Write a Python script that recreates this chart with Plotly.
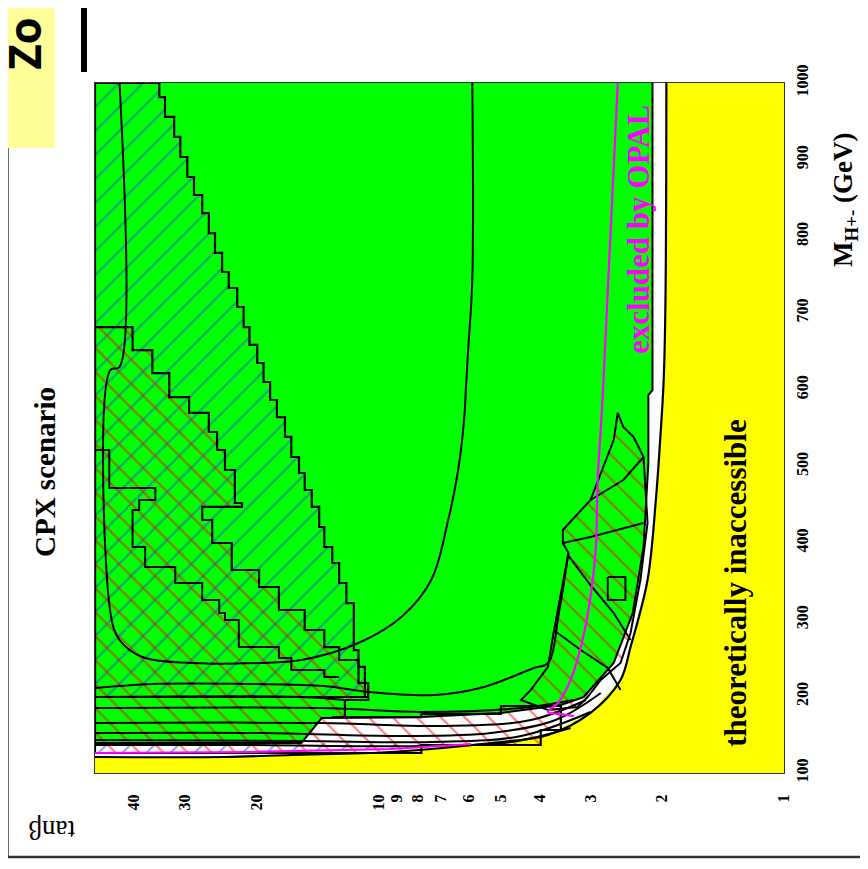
import math
import plotly.graph_objects as go

# ---------------- data (tan(beta), M_H+- in GeV) ----------------
tb_ticks = [1, 2, 3, 4, 5, 6, 7, 8, 9, 10, 20, 30, 40]
tb_ticktext = [str(v) for v in tb_ticks]
m_ticks = [100, 200, 300, 400, 500, 600, 700, 800, 900, 1000]

# theoretically inaccessible boundary
yellow_tb = [50, 23.9, 16.4, 9.29, 5.28, 3.82, 3.00, 2.53, 2.39, 2.17, 2.07, 2.02, 1.98, 1.96, 1.95]
yellow_m = [120.9, 120.9, 123.5, 127.4, 139.1, 149.6, 178.3, 221.3, 264.3, 351.7, 456.1, 534.3, 612.6, 716.9, 1000]

# inner edge of the excluded (green) region
inner_tb = [50, 15.5, 13.8, 7.84, 4.99, 3.55, 3.12, 2.63, 2.36, 2.22, 2.16, 2.16, 2.11, 2.11]
inner_m = [139.1, 139.1, 171.7, 173.0, 178.3, 188.7, 199.1, 243.5, 308.7, 394.8, 504.3, 593.0, 599.5, 1000]

# blue-hatched region (staircase)
blue_tb = [50, 34.7, 33.6, 31.9, 30.8, 29.6, 28.5, 27.2, 26.2, 25.3, 24.3, 23.4, 22.3, 21.5, 20.8,
           19.9, 19.2, 18.5, 17.8, 17.0, 16.4, 15.7, 15.2, 14.6, 14.0, 13.6, 13.0, 12.5, 12.0, 11.5,
           11.5, 11.2, 10.8, 10.6, 50]
blue_m = [1000, 1000, 981.7, 955.7, 929.6, 903.5, 877.4, 853.9, 830.4, 804.3, 778.3, 753.5, 732.6, 707.8, 681.7,
          658.3, 634.8, 610.0, 586.5, 564.3, 538.3, 512.2, 491.3, 469.1, 447.0, 420.9, 394.8, 373.9, 347.8, 321.7,
          269.6, 260.4, 238.3, 199.1, 199.1]
blue2_tb = [50, 15.5, 9.0, 6.0, 9.29, 20.5, 50]
blue2_m = [139.1, 139.1, 138.0, 137.8, 131.3, 127.4, 126.1]

# red-hatched regions
red_tb = [50, 40.4, 36.1, 32.8, 29.3, 26.2, 25.0, 23.9, 22.6, 21.7, 27.2, 25.7, 23.0, 19.7, 17.6, 15.2,
          13.6, 12.5, 11.2, 10.6, 10.6, 12.1, 13.0, 7.84, 4.99, 3.55, 3.98, 7.84, 50]
red_m = [684.3, 681.7, 651.7, 621.7, 590.4, 569.6, 544.8, 521.3, 495.2, 452.2, 447.0, 430.0, 400.0, 364.8,
         342.6, 312.6, 286.5, 264.3, 247.4, 217.4, 199.1, 195.2, 173.0, 173.0, 177.0, 187.4, 156.1, 136.5, 126.1]
red2_tb = [2.57, 2.49, 2.35, 2.22, 2.17, 2.26, 2.39, 2.53, 2.83, 3.05, 3.23, 3.82, 4.45, 4.21, 3.82, 3.70,
           3.40, 3.51, 3.51, 3.00, 2.63, 2.57]
red2_m = [569.6, 551.3, 538.3, 512.2, 426.1, 351.7, 282.6, 243.5, 221.3, 199.1, 186.1, 182.2, 195.2, 208.3,
          238.3, 282.6, 387.0, 400.0, 417.0, 456.1, 534.3, 569.6]

# contour lines
ucurve_tb = [5.87, 5.87, 6.01, 6.08, 6.15, 6.36, 6.73, 7.41, 8.78, 11.2, 15.5, 19.7, 28.8, 38.2, 43.5, 45.8, 45.8, 43.5, 43.5]
ucurve_m = [1000, 743.0, 651.7, 606.0, 560.4, 495.2, 430.0, 351.7, 303.5, 269.6, 247.4, 243.5, 243.5, 251.3, 273.5, 308.7, 625.7, 629.6, 1000]
zig_tb = [50, 46.1, 35.5, 38.9, 40.4, 40.4, 37.6, 31.7, 27.2, 24.7, 23.9, 22.1, 17.6, 16.4, 13.6, 12.5]
zig_m = [538.3, 521.3, 471.7, 456.1, 443.0, 413.0, 394.8, 368.7, 347.8, 325.7, 308.7, 299.6, 264.3, 250.0, 234.3, 225.2]
low_tb = [50, 36.1, 20.5, 13.6, 10.6, 7.28, 5.49, 4.14, 3.82, 3.59, 3.40]
low_m = [210.9, 216.1, 216.1, 213.5, 205.7, 201.7, 212.2, 237.0, 243.5, 308.7, 387.0]
strips = [
    ([50, 15.5, 12.1], [199.1, 199.1, 195.2]),
    ([50, 13.8, 7.84, 4.45, 3.30], [184.8, 184.8, 179.6, 184.8, 195.2]),
    ([50, 13.8, 7.0, 4.21, 3.08], [165.2, 165.2, 161.3, 169.1, 195.2]),
    ([50, 19.4, 8.78, 5.28, 3.66, 2.83], [152.2, 152.2, 148.3, 152.2, 169.1, 204.3]),
    ([50, 15.5, 7.41, 4.45, 3.0], [143.0, 141.7, 140.4, 148.3, 179.6]),
    ([50, 20.5, 7.84, 4.71, 3.36], [136.5, 136.5, 135.2, 140.4, 158.7]),
]
right_lines = [
    ([3.51, 3.0, 2.22], [400.0, 407.8, 426.1]),
    ([3.41, 3.0, 2.63, 2.39], [384.3, 345.2, 308.7, 273.5]),
    ([3.70, 3.17, 2.72, 2.53], [286.5, 260.4, 237.0, 208.3]),
    ([2.72, 2.46, 2.46, 2.72, 2.72], [355.7, 355.7, 325.7, 325.7, 355.7]),
    ([3.0, 2.49, 2.22], [456.1, 482.2, 512.2]),
]

# OPAL exclusion (magenta)
opal_tb = [2.57, 2.80, 2.88, 2.91, 3.00, 3.17, 3.36, 3.61, 3.82, 3.55, 3.30]
opal_m = [1000, 590.4, 482.2, 394.8, 329.6, 264.3, 221.3, 191.3, 179.6, 177.0, 174.3]
opal2_tb = [50, 20.5, 9.29, 5.91]
opal2_m = [126.1, 127.4, 131.3, 137.8]

GREEN = "#00ff00"
YELLOW = "#ffff00"
SERIF = "Liberation Serif"

fig = go.Figure()

def poly(xs, ys, **kw):
    fig.add_trace(go.Scatter(x=list(xs) + [xs[0]], y=list(ys) + [ys[0]], mode="lines", fill="toself",
                             hoverinfo="skip", showlegend=False, **kw))

def line(xs, ys, color="black", width=2, shape="linear"):
    fig.add_trace(go.Scatter(x=xs, y=ys, mode="lines", hoverinfo="skip", showlegend=False,
                             line=dict(color=color, width=width, shape=shape)))

# white band between green region and theoretical limit
poly(inner_tb + yellow_tb[::-1], inner_m + yellow_m[::-1], fillcolor="white", line=dict(width=0))
# yellow theoretically inaccessible region
poly(yellow_tb + [1, 1, 50], yellow_m + [1000, 100, 100], fillcolor=YELLOW, line=dict(width=0))

# hatched regions
hb = dict(shape="/", fgcolor="#1a50d8", bgcolor="rgba(0,0,0,0)", size=17, solidity=0.13)
hr = dict(shape="\\", fgcolor="#ff0000", bgcolor="rgba(0,0,0,0)", size=17, solidity=0.13)
poly(blue_tb, blue_m, fillcolor="rgba(0,0,0,0)", fillpattern=hb, line=dict(color="black", width=2.2, shape="vh"))
poly(blue2_tb, blue2_m, fillcolor="rgba(0,0,0,0)", fillpattern=hb, line=dict(width=0))
poly(red_tb, red_m, fillcolor="rgba(0,0,0,0)", fillpattern=hr, line=dict(color="black", width=2.2, shape="vh"))
poly(red2_tb, red2_m, fillcolor="rgba(0,0,0,0)", fillpattern=hr, line=dict(color="black", width=2))

# contour lines
line(ucurve_tb, ucurve_m, shape="spline")
line(zig_tb, zig_m, shape="vh")
line(low_tb, low_m, shape="spline")
for xs, ys in strips:
    line(xs, ys, shape="spline")
for xs, ys in right_lines:
    line(xs, ys)
line(inner_tb, inner_m, width=2)
line(yellow_tb, yellow_m, width=2.2, shape="spline")

# OPAL
line(opal_tb, opal_m, color="#ff00ff", width=2.2, shape="spline")
line(opal2_tb, opal2_m, color="#ff00ff", width=2.2)

axfont = dict(family=SERIF, size=16, color="black", weight="bold")
fig.update_xaxes(type="log", range=[math.log10(50), 0], tickvals=tb_ticks, ticktext=tb_ticktext,
                 tickangle=-90, tickfont=axfont, ticks="", showgrid=False, zeroline=False,
                 showline=True, mirror=True, linecolor="#333333", linewidth=1, ticklabelstandoff=14)
fig.update_yaxes(range=[100, 1000], tickvals=m_ticks, side="right", tickangle=-90, tickfont=axfont,
                 ticks="", showgrid=False, zeroline=False, showline=True, mirror=True,
                 linecolor="#333333", linewidth=1, ticklabelstandoff=4)

ann = [
    dict(text="CPX scenario", x=-0.0726, y=0.4362, textangle=-90,
         font=dict(family=SERIF, size=29, color="black", weight="bold")),
    dict(text="theoretically inaccessible", x=0.930, y=0.2754, textangle=-90,
         font=dict(family=SERIF, size=31, color="black", weight="bold")),
    dict(text="excluded by OPAL", x=0.7896, y=0.787, textangle=-90,
         font=dict(family=SERIF, size=31, color="#ff00ff", weight="bold")),
    dict(text="M<sub>H+-</sub> (GeV)", x=1.0885, y=0.8304, textangle=-90,
         font=dict(family=SERIF, size=27, color="black", weight="bold")),
    dict(text="tanβ", x=-0.0624, y=-0.0826, textangle=180,
         font=dict(family=SERIF, size=27, color="black")),
    dict(text="Zo", x=-0.104, y=1.0159, textangle=-90, yanchor="bottom",
         font=dict(family="Open Sans", size=44, color="black", weight="bold")),
]
for a in ann:
    a.setdefault("yanchor", "middle")
    fig.add_annotation(xref="paper", yref="paper", showarrow=False, xanchor="center", **a)

shapes = [
    dict(type="rect", x0=-0.1379, x1=-0.0581, y0=0.9058, y1=1.125, fillcolor="#ffff99", line=dict(width=0), layer="below"),
    dict(type="rect", x0=-0.0203, x1=-0.0116, y0=1.0159, y1=1.125, fillcolor="black", line=dict(width=0)),
    dict(type="line", x0=-0.1263, x1=-0.1263, y0=0.9058, y1=-0.1217, line=dict(color="#333333", width=1.5)),
    dict(type="line", x0=-0.1263, x1=1.13, y0=-0.1217, y1=-0.1217, line=dict(color="#333333", width=2.5)),
]
for s in shapes:
    fig.add_shape(xref="paper", yref="paper", **s)

# page body has an 8px margin: shrink the figure so the plot area lands where the reference has it
fig.update_layout(width=860, height=861, margin=dict(l=87, r=84, t=75, b=96),
                  plot_bgcolor=GREEN, paper_bgcolor="white", showlegend=False)
fig.write_html("out.html")
